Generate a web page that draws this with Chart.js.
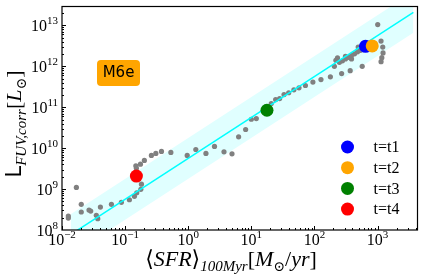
<!DOCTYPE html>
<html>
<head>
<meta charset="utf-8">
<script src="https://cdn.jsdelivr.net/npm/chart.js@4/dist/chart.umd.min.js"></script>
<style>
  html, body { margin: 0; padding: 0; background: #fff; }
  #wrap { width: 424px; height: 280px; }
</style>
</head>
<body>
<div id="wrap"><canvas id="c"></canvas></div>
<script>
// tick labels (10^n)
const xTicks = [0.01, 0.1, 1, 10, 100, 1000];
const xTickExp = ['\u22122', '\u22121', '0', '1', '2', '3'];
const yTicks = [1e8, 1e9, 1e10, 1e11, 1e12, 1e13];
const yTickExp = ['8', '9', '10', '11', '12', '13'];

// gray track of the galaxy
const grayX = [0.0126, 0.0126, 0.0169, 0.0202, 0.0202, 0.0268, 0.0285, 0.035, 0.0369, 0.0406,
  0.0607, 0.0873, 0.117, 0.1405, 0.153, 0.1775, 0.1815, 0.148, 0.151, 0.175,
  0.202, 0.261, 0.307, 0.377, 0.531, 0.964, 1.32, 1.91, 2.61, 3.69,
  4.94, 6.29, 8.13, 10.0, 12.0, 20.7, 24.3, 28.1, 33.0, 39.1,
  47.3, 57.0, 72.0, 94.6, 127, 179, 270, 369, 572, 1007,
  1137, 1210, 1223, 1170, 1137, 207, 219, 232, 249, 278,
  310, 347, 387, 432, 482, 537, 600, 494, 593, 310, 387];
const grayY = [2.19e8, 1.96e8, 1.10e9, 4.24e8, 2.75e8, 3.08e8, 2.90e8, 2.29e8, 1.89e8, 3.64e8,
  4.24e8, 4.74e8, 5.48e8, 6.64e8, 8.13e8, 9.84e8, 1.32e9, 3.70e9, 3.25e9, 4.07e9,
  5.01e9, 6.64e9, 7.43e9, 8.31e9, 7.85e9, 6.64e9, 9.29e9, 7.43e9, 1.10e10, 8.13e9,
  7.26e9, 1.89e10, 2.86e10, 5.09e10, 5.30e10, 1.23e11, 1.54e11, 1.63e11, 2.04e11, 2.26e11,
  2.66e11, 2.99e11, 3.40e11, 4.12e11, 4.74e11, 5.55e11, 6.64e11, 7.85e11, 1.0e12, 1.05e13,
  4.14e12, 2.96e12, 2.13e12, 1.63e12, 1.30e12, 1.0e12, 1.40e12, 1.61e12, 1.25e12, 1.36e12,
  1.52e12, 1.66e12, 1.86e12, 2.02e12, 2.26e12, 2.46e12, 2.75e12, 2.96e12, 3.58e12, 1.75e12, 1.52e12];

// highlighted times
const stageLabels = ['t=t1', 't=t2', 't=t3', 't=t4'];
const stageColors = ['#0000ff', '#ffa500', '#008000', '#ff0000'];
const stageX = [645, 824, 17.7, 0.151];
const stageY = [3.08e12, 3.16e12, 8.45e10, 2.08e9];
const stageOrder = [1, 0, 1, 1];

// relation and +-0.5 dex band
const fitX = [0.0139, 3700];
const fitY = [7.82e7, 2.08e13];
const bandHiY = [2.47e8, 6.58e13];
const bandLoY = [2.47e7, 6.58e12];

const SERIF = '"Liberation Serif", "DejaVu Serif", serif';
const SANS = '"DejaVu Sans", sans-serif';

const pts = (xs, ys) => xs.map((x, i) => ({ x, y: ys[i] }));

// draws a run of text pieces, each with own font and vertical shift
function drawRich(ctx, parts, x, y, align) {
  let w = 0;
  parts.forEach((p) => { ctx.font = p.font; p.w = ctx.measureText(p.t).width; w += p.w; });
  let cx = align === 'right' ? x - w : align === 'center' ? x - w / 2 : x;
  ctx.textAlign = 'left';
  ctx.textBaseline = 'alphabetic';
  parts.forEach((p) => {
    ctx.font = p.font;
    ctx.fillText(p.t, cx, y + (p.dy || 0));
    cx += p.w;
  });
}

const axesPlugin = {
  id: 'axesPlugin',
  afterDraw(chart) {
    const { ctx, chartArea: { left, top, right, bottom }, scales: { x, y } } = chart;
    ctx.save();
    ctx.fillStyle = '#000';
    ctx.strokeStyle = '#000';

    // ticks, inward, major + minor
    ctx.lineWidth = 1;
    ctx.beginPath();
    for (let e = -2; e <= 3; e++) {
      for (let m = 1; m <= 9; m++) {
        const v = m * Math.pow(10, e);
        const px = Math.round(x.getPixelForValue(v)) + 0.5;
        if (px < left || px > right) continue;
        const len = m === 1 ? 4 : 2;
        ctx.moveTo(px, bottom); ctx.lineTo(px, bottom - len);
      }
    }
    for (let e = 8; e <= 13; e++) {
      for (let m = 1; m <= 9; m++) {
        const v = m * Math.pow(10, e);
        const py = Math.round(y.getPixelForValue(v)) + 0.5;
        if (py < top || py > bottom) continue;
        const len = m === 1 ? 4 : 2;
        ctx.moveTo(left, py); ctx.lineTo(left + len, py);
      }
    }
    ctx.stroke();

    // frame
    ctx.lineWidth = 1.2;
    ctx.strokeRect(left, top, right - left, bottom - top);

    // tick labels
    xTicks.forEach((v, i) => {
      drawRich(ctx, [
        { t: '10', font: `16px ${SERIF}` },
        { t: xTickExp[i], font: `11px ${SERIF}`, dy: -7 },
      ], x.getPixelForValue(v), bottom + 15, 'center');
    });
    yTicks.forEach((v, i) => {
      drawRich(ctx, [
        { t: '10', font: `16px ${SERIF}` },
        { t: yTickExp[i], font: `11px ${SERIF}`, dy: -7 },
      ], left - 4, y.getPixelForValue(v) + 5.5, 'right');
    });

    // x title
    drawRich(ctx, [
      { t: '\u27e8', font: `22px ${SERIF}` },
      { t: 'SFR', font: `italic 22px ${SERIF}` },
      { t: '\u27e9', font: `22px ${SERIF}` },
      { t: '100Myr', font: `italic 15px ${SERIF}`, dy: 5 },
      { t: '[', font: `22px ${SERIF}` },
      { t: 'M', font: `italic 22px ${SERIF}` },
      { t: '\u2299', font: `14px ${SERIF}`, dy: 5 },
      { t: '/', font: `22px ${SERIF}` },
      { t: 'yr', font: `italic 22px ${SERIF}` },
      { t: ']', font: `22px ${SERIF}` },
    ], 231, 266, 'center');

    // y title
    ctx.save();
    ctx.translate(21, 124);
    ctx.rotate(-Math.PI / 2);
    drawRich(ctx, [
      { t: 'L', font: `21px ${SANS}` },
      { t: 'FUV,corr', font: `italic 15px ${SERIF}`, dy: 5 },
      { t: '[', font: `22px ${SERIF}` },
      { t: 'L', font: `italic 22px ${SERIF}` },
      { t: '\u2299', font: `14px ${SERIF}`, dy: 5 },
      { t: ']', font: `22px ${SERIF}` },
    ], 0, 0, 'center');
    ctx.restore();

    // M6e tag
    ctx.fillStyle = '#ffa500';
    ctx.beginPath();
    ctx.roundRect(97, 60, 43, 26, 4);
    ctx.fill();
    ctx.fillStyle = '#000';
    ctx.font = `15px ${SANS}`;
    ctx.textAlign = 'center';
    ctx.textBaseline = 'middle';
    ctx.fillText('M6e', 118.5, 73.5);

    // legend
    stageLabels.forEach((lab, i) => {
      const ly = bottom - 83 + i * 20.7;
      ctx.fillStyle = stageColors[i];
      ctx.beginPath();
      ctx.arc(right - 70, ly, 6.5, 0, Math.PI * 2);
      ctx.fill();
      ctx.fillStyle = '#000';
      ctx.font = `16px ${SERIF}`;
      ctx.textAlign = 'left';
      ctx.textBaseline = 'middle';
      ctx.fillText(lab, right - 44, ly + 1);
    });
    ctx.restore();
  },
};

const stageSets = stageLabels.map((lab, i) => ({
  type: 'scatter',
  label: lab,
  data: [{ x: stageX[i], y: stageY[i] }],
  backgroundColor: stageColors[i],
  borderWidth: 0,
  pointRadius: 6.5,
  order: stageOrder[i],
}));

new Chart(document.getElementById('c').getContext('2d'), {
  type: 'scatter',
  plugins: [axesPlugin],
  data: {
    datasets: [
      ...stageSets,
      {
        label: 'track',
        data: pts(grayX, grayY),
        backgroundColor: '#808080',
        borderWidth: 0,
        pointRadius: 2.6,
        order: 6,
      },
      {
        type: 'line',
        label: 'fit',
        data: pts(fitX, fitY),
        borderColor: '#00ffff',
        borderWidth: 1.5,
        pointRadius: 0,
        fill: false,
        order: 5,
      },
      {
        type: 'line',
        label: 'bandHi',
        data: pts(fitX, bandHiY),
        borderWidth: 0,
        borderColor: 'rgba(0,0,0,0)',
        backgroundColor: '#e0ffff',
        pointRadius: 0,
        fill: '+1',
        order: 8,
      },
      {
        type: 'line',
        label: 'bandLo',
        data: pts(fitX, bandLoY),
        borderWidth: 0,
        borderColor: 'rgba(0,0,0,0)',
        pointRadius: 0,
        fill: false,
        order: 9,
      },
    ],
  },
  options: {
    responsive: true,
    maintainAspectRatio: false,
    animation: false,
    layout: { padding: { left: 62, right: 6, top: 6, bottom: 50 } },
    plugins: {
      legend: { display: false },
      tooltip: { enabled: false },
    },
    scales: {
      x: { type: 'logarithmic', min: 0.01, max: 4300, display: false },
      y: { type: 'logarithmic', min: 1e8, max: 2.9e13, display: false },
    },
  },
});
</script>
</body>
</html>
